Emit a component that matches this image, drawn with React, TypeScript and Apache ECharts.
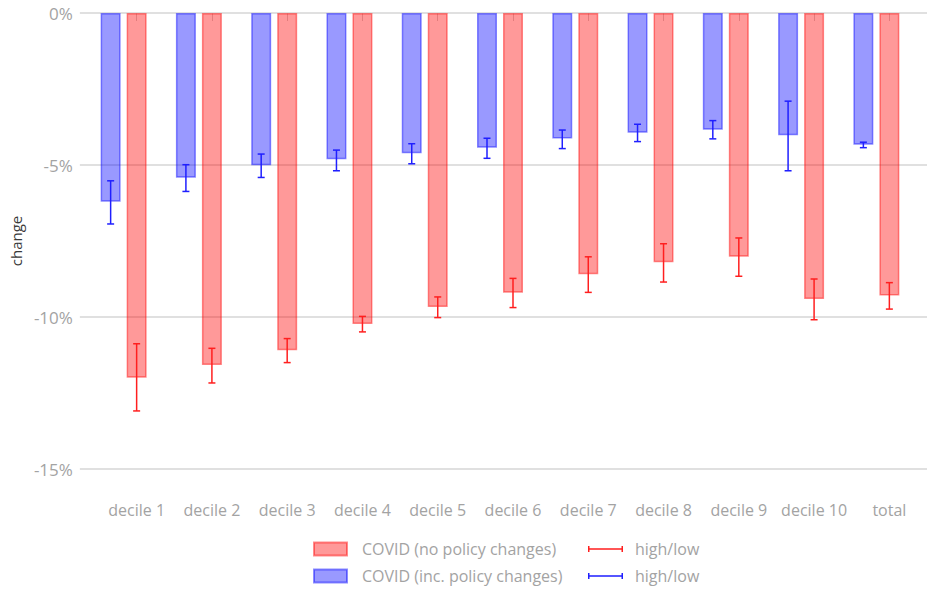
import React, { useEffect, useRef } from "react";
import * as echarts from "echarts";

// Income change by decile, in percent
const categories = [
  "decile 1", "decile 2", "decile 3", "decile 4", "decile 5",
  "decile 6", "decile 7", "decile 8", "decile 9", "decile 10", "total",
];

// COVID (no policy changes): central estimate and high/low range
const noPolicy = [-12.0, -11.58, -11.09, -10.23, -9.67, -9.2, -8.59, -8.2, -8.02, -9.41, -9.29];
const noPolicyHigh = [-10.88, -11.03, -10.71, -9.98, -9.34, -8.73, -8.02, -7.59, -7.4, -8.75, -8.87];
const noPolicyLow = [-13.09, -12.17, -11.5, -10.49, -10.02, -9.69, -9.19, -8.85, -8.66, -10.09, -9.74];

// COVID (inc. policy changes): central estimate and high/low range
const incPolicy = [-6.21, -5.42, -5.01, -4.81, -4.61, -4.43, -4.13, -3.94, -3.84, -4.02, -4.33];
const incPolicyHigh = [-5.52, -4.99, -4.64, -4.51, -4.3, -4.12, -3.85, -3.66, -3.54, -2.9, -4.25];
const incPolicyLow = [-6.94, -5.87, -5.41, -5.19, -4.96, -4.78, -4.46, -4.23, -4.14, -5.19, -4.43];

const yTicks = { min: -15, max: 0, interval: 5 };

const NO_POLICY_NAME = "COVID (no policy changes)";
const INC_POLICY_NAME = "COVID (inc. policy changes)";
const NO_POLICY_RANGE = "high/low (no policy changes)";
const INC_POLICY_RANGE = "high/low (inc. policy changes)";

const FONT = "'Open Sans', sans-serif";
const LABEL_GREY = "#a3a3a3";
const RED_LINE = "#ff1f1f";
const BLUE_LINE = "#1f1fff";

const BAR_W = 20;
const BAR_GAP_PX = 6;
const CAP_HALF = 3.5;

// Error bar icon drawn inside a 35 x 13 legend box
const RANGE_ICON =
  "path://M0,0h0.01v0.01h-0.01z M34.99,12.99h0.01v0.01h-0.01z " +
  "M0,3.5h1.5v6h-1.5z M33.5,3.5h1.5v6h-1.5z M0,5.75h35v1.5h-35z";

function rangeData(high: number[], low: number[]) {
  return high.map((h, i) => [i, h, low[i]]);
}

function errorBarRenderer(color: string, offset: number) {
  return (_params: any, api: any) => {
    const idx = api.value(0);
    const top = api.coord([idx, api.value(1)]);
    const bottom = api.coord([idx, api.value(2)]);
    const x = top[0] + offset;
    const style = { stroke: color, lineWidth: 1.5 };
    return {
      type: "group",
      children: [
        { type: "line", shape: { x1: x, y1: top[1], x2: x, y2: bottom[1] }, style },
        { type: "line", shape: { x1: x - CAP_HALF, y1: top[1], x2: x + CAP_HALF, y2: top[1] }, style },
        { type: "line", shape: { x1: x - CAP_HALF, y1: bottom[1], x2: x + CAP_HALF, y2: bottom[1] }, style },
      ],
    };
  };
}

export default function App() {
  const ref = useRef<HTMLDivElement>(null);

  useEffect(() => {
    if (!ref.current) return;
    const chart = echarts.init(ref.current, undefined, { renderer: "svg" });

    const blueOffset = -(BAR_W + BAR_GAP_PX);

    const legendBase = {
      orient: "vertical",
      top: 541,
      padding: 0,
      itemHeight: 13,
      itemGap: 11,
      selectedMode: false,
    };

    const option: any = {
      animation: false,
      textStyle: { fontFamily: FONT },
      grid: [
        // grid carrying the y scale and horizontal rules
        { left: 79, right: 0, top: 13, bottom: 120, containLabel: false },
        // grid carrying the bars
        { left: 99, right: 0, top: 13, bottom: 120, containLabel: false },
      ],
      xAxis: [
        { gridIndex: 0, type: "value", show: false, min: 0, max: 1 },
        {
          gridIndex: 1,
          type: "category",
          data: categories,
          offset: 16,
          axisLine: { show: false },
          axisTick: { show: true, alignWithLabel: true, interval: 0, length: 8, lineStyle: { color: "#cfcfcf", width: 1 } },
          axisLabel: { color: LABEL_GREY, fontSize: 16, margin: 17, interval: 0, fontFamily: FONT },
          splitLine: { show: false },
        },
      ],
      yAxis: [
        {
          gridIndex: 0,
          type: "value",
          min: yTicks.min,
          max: yTicks.max,
          interval: yTicks.interval,
          name: "change",
          nameLocation: "middle",
          nameGap: 56,
          nameTextStyle: { color: "#3a3a3a", fontSize: 15, fontFamily: FONT },
          axisLine: { show: false },
          axisTick: { show: false },
          axisLabel: {
            color: LABEL_GREY,
            fontSize: 17,
            margin: 7,
            fontFamily: FONT,
            formatter: (v: number) => `${v}%`,
          },
          splitLine: { show: true, lineStyle: { color: "#d6d6d6", width: 1.5 } },
        },
        {
          gridIndex: 1,
          type: "value",
          min: yTicks.min,
          max: yTicks.max,
          interval: yTicks.interval,
          show: false,
          splitLine: { show: false },
        },
      ],
      legend: [
        {
          ...legendBase,
          left: 313,
          itemWidth: 33,
          icon: "rect",
          data: [NO_POLICY_NAME, INC_POLICY_NAME],
          textStyle: { color: LABEL_GREY, fontSize: 16, fontFamily: FONT, padding: [0, 0, 0, 10] },
        },
        {
          ...legendBase,
          left: 588,
          itemWidth: 35,
          data: [
            { name: NO_POLICY_RANGE, icon: RANGE_ICON },
            { name: INC_POLICY_RANGE, icon: RANGE_ICON },
          ],
          formatter: () => "high/low",
          textStyle: { color: LABEL_GREY, fontSize: 16, fontFamily: FONT, padding: [0, 0, 0, 7] },
        },
      ],
      series: [
        {
          name: INC_POLICY_NAME,
          type: "bar",
          xAxisIndex: 1,
          yAxisIndex: 1,
          data: incPolicy,
          barWidth: BAR_W,
          barGap: `${(BAR_GAP_PX / BAR_W) * 100}%`,
          itemStyle: { color: "rgba(0,0,255,0.4)", borderColor: "rgba(0,0,255,0.45)", borderWidth: 1.5 },
        },
        {
          name: NO_POLICY_NAME,
          type: "bar",
          xAxisIndex: 1,
          yAxisIndex: 1,
          data: noPolicy,
          barWidth: BAR_W,
          barGap: `${(BAR_GAP_PX / BAR_W) * 100}%`,
          itemStyle: { color: "rgba(255,0,0,0.4)", borderColor: "rgba(255,0,0,0.45)", borderWidth: 1.5 },
        },
        {
          // empty slot so the red bars sit on the category tick
          name: "slot",
          type: "bar",
          xAxisIndex: 1,
          yAxisIndex: 1,
          data: categories.map(() => null),
          barWidth: BAR_W,
          barGap: `${(BAR_GAP_PX / BAR_W) * 100}%`,
          silent: true,
        },
        {
          name: NO_POLICY_RANGE,
          type: "custom",
          xAxisIndex: 1,
          yAxisIndex: 1,
          z: 5,
          itemStyle: { color: RED_LINE },
          encode: { x: 0, y: [1, 2] },
          data: rangeData(noPolicyHigh, noPolicyLow),
          renderItem: errorBarRenderer(RED_LINE, 0),
        },
        {
          name: INC_POLICY_RANGE,
          type: "custom",
          xAxisIndex: 1,
          yAxisIndex: 1,
          z: 5,
          itemStyle: { color: BLUE_LINE },
          encode: { x: 0, y: [1, 2] },
          data: rangeData(incPolicyHigh, incPolicyLow),
          renderItem: errorBarRenderer(BLUE_LINE, blueOffset),
        },
      ],
    };

    chart.setOption(option);
    return () => chart.dispose();
  }, []);

  return (
    <div
      ref={ref}
      style={{ position: "fixed", left: 0, top: 0, width: 927, height: 589, background: "#fff" }}
    />
  );
}
